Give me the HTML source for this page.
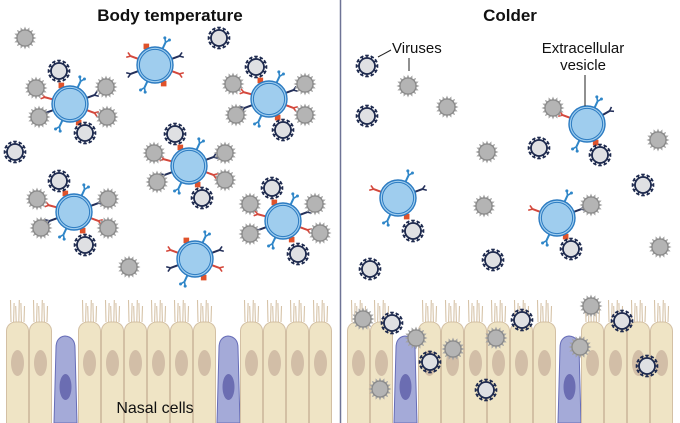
<!DOCTYPE html>
<html><head><meta charset="utf-8"><style>
html,body{margin:0;padding:0;background:#fff;width:680px;height:423px;overflow:hidden}
svg{display:block}
text{font-family:"Liberation Sans",sans-serif;fill:#111}
</style></head><body>
<svg id="s" width="680" height="423" viewBox="0 0 680 423" xmlns="http://www.w3.org/2000/svg">
<line x1="340.5" y1="0" x2="340.5" y2="423" stroke="#6e7396" stroke-width="1.5"/>
<g id="cells"></g>
<g id="objs"></g>
<text x="170" y="21" font-size="17" font-weight="bold" text-anchor="middle">Body temperature</text>
<text x="510" y="21" font-size="17" font-weight="bold" text-anchor="middle">Colder</text>
<text x="392" y="53" font-size="15">Viruses</text>
<line x1="378" y1="57" x2="391" y2="50" stroke="#222" stroke-width="1"/>
<line x1="409" y1="58" x2="409" y2="71" stroke="#222" stroke-width="1"/>
<text x="583" y="53" font-size="15" text-anchor="middle">Extracellular</text>
<text x="583" y="70" font-size="15" text-anchor="middle">vesicle</text>
<line x1="585" y1="75" x2="585" y2="106" stroke="#222" stroke-width="1"/>
<text x="155" y="413" font-size="16" text-anchor="middle">Nasal cells</text>
</svg>
<script>
var NS="http://www.w3.org/2000/svg";
function el(p,t,a){var e=document.createElementNS(NS,t);for(var k in a)e.setAttribute(k,a[k]);p.appendChild(e);return e;}
var cells=document.getElementById('cells'),objs=document.getElementById('objs');
function cell(x,w){
  for(var i=0;i<6;i++){var cx=x+5+i*2.6;el(cells,'line',{x1:cx,y1:322,x2:cx+(i%2?0.5:-0.5),y2:300+(i%3)*3,stroke:'#d6c3a8','stroke-width':1.1});}
  el(cells,'rect',{x:x+0.5,y:322,width:w-1,height:120,rx:9,fill:'#efe4c5',stroke:'#d3c0a4','stroke-width':1});
  el(cells,'ellipse',{cx:x+w/2,cy:363,rx:6.5,ry:13,fill:'#d2bea7'});
}
function gob(x,w){
  el(cells,'path',{d:'M'+(x+1)+' 423 L'+(x+3)+' 348 Q'+(x+3)+' 337 '+(x+12)+' 336 Q'+(x+w-3)+' 337 '+(x+w-3)+' 348 L'+(x+w-1)+' 423 Z',fill:'#a4aad8',stroke:'#676db8','stroke-width':1});
  el(cells,'ellipse',{cx:x+w/2,cy:387,rx:6,ry:13,fill:'#6b6db2'});
}
[6,29].forEach(function(x){cell(x,23)});gob(53,25);
[78,101,124,147,170,193].forEach(function(x){cell(x,23)});gob(216,25);
[240,263,286,309].forEach(function(x){cell(x,23)});
[347,370].forEach(function(x){cell(x,23)});gob(393,25);
[418,441,464,487,510,533].forEach(function(x){cell(x,23)});gob(557,25);
[581,604,627,650].forEach(function(x){cell(x,23)});

function gray(x,y){
  var g=el(objs,'g',{});
  var d='';for(var i=0;i<16;i++){var a=i/16*Math.PI*2,b=a+Math.PI/16;d+=(i?'L':'M')+(x+11.5*Math.cos(a))+' '+(y+11.5*Math.sin(a))+'L'+(x+8*Math.cos(b))+' '+(y+8*Math.sin(b));}
  el(g,'path',{d:d+'Z',fill:'#a3a3a3'});
  el(g,'circle',{cx:x,cy:y,r:8,fill:'#b4b4b4',stroke:'#8a8a8a','stroke-width':1.3});
}
function dark(x,y){
  var g=el(objs,'g',{});
  for(var i=0;i<12;i++){var a=i/12*Math.PI*2,c=Math.cos(a),s=Math.sin(a);
    el(g,'line',{x1:x+8*c,y1:y+8*s,x2:x+10.5*c,y2:y+10.5*s,stroke:'#1f2b4f','stroke-width':1.6});
    el(g,'line',{x1:x+10.5*c-1.8*s,y1:y+10.5*s+1.8*c,x2:x+10.5*c+1.8*s,y2:y+10.5*s-1.8*c,stroke:'#1f2b4f','stroke-width':1.6});}
  el(g,'circle',{cx:x,cy:y,r:8,fill:'#dfe0e3',stroke:'#1f2b4f','stroke-width':1.8});
}
function recep(x,y,ang,col,len,fork){
  var a=ang*Math.PI/180,r0=18,r1=18+len;
  var x0=x+r0*Math.cos(a),y0=y+r0*Math.sin(a),x1=x+r1*Math.cos(a),y1=y+r1*Math.sin(a);
  el(objs,'line',{x1:x0,y1:y0,x2:x1,y2:y1,stroke:col,'stroke-width':2});
  for(var s=-1;s<=1;s+=2){var b=a+s*0.6;el(objs,'line',{x1:x1,y1:y1,x2:x1+4.5*Math.cos(b),y2:y1+4.5*Math.sin(b),stroke:col,'stroke-width':1.6});
    if(fork)el(objs,'circle',{cx:x1+4.5*Math.cos(b),cy:y1+4.5*Math.sin(b),r:1.5,fill:col});}
}
function diamond(x,y,ang){
  var a=ang*Math.PI/180,px=x+20.5*Math.cos(a),py=y+20.5*Math.sin(a);
  el(objs,'rect',{x:px-2.8,y:py-2.8,width:5.6,height:5.6,fill:'#e0522a'});
}
function ev(x,y,opts){
  opts=opts||{};
  (opts.blue||[-65,115]).forEach(function(a){recep(x,y,a,'#2f86c8',7,true)});
  (opts.red||[200,20]).forEach(function(a){recep(x,y,a,'#d4483c',8,false)});
  (opts.navy||[160,-20]).forEach(function(a){recep(x,y,a,'#24305a',8,false)});
  (opts.dia||[-115,65]).forEach(function(a){diamond(x,y,a)});
  el(objs,'circle',{cx:x,cy:y,r:18,fill:'#9fcdee',stroke:'#2d7cc2','stroke-width':1.4});
  el(objs,'circle',{cx:x,cy:y,r:15.6,fill:'none',stroke:'#2d7cc2','stroke-width':1});
}
var C=[[70,104,[[36,88],[106,87],[39,117],[107,117]],[[59,71],[85,133]]],
[269,99,[[233,84],[305,84],[236,115],[305,115]],[[256,67],[283,130]]],
[189,166,[[154,153],[225,153],[157,182],[225,180]],[[175,134],[202,198]]],
[74,212,[[37,199],[108,199],[41,228],[108,228]],[[59,181],[85,245]]],
[283,221,[[250,204],[315,204],[250,234],[320,233]],[[272,188],[298,254]]]];
C.forEach(function(c){ev(c[0],c[1],{red:[195,20],navy:[160,-20]});c[2].forEach(function(p){gray(p[0],p[1])});c[3].forEach(function(p){dark(p[0],p[1])});});
ev(155,65);ev(195,259);
gray(25,38);dark(219,38);dark(15,152);gray(129,267);
ev(587,124,{red:[200],navy:[-30],dia:[65]});gray(553,108);dark(600,155);
ev(398,198,{red:[200],navy:[-20],dia:[65]});dark(413,231);
ev(557,218,{red:[200],navy:[-20],dia:[65]});gray(591,205);dark(571,249);
[[408,86],[447,107],[487,152],[658,140],[484,206],[660,247]].forEach(function(p){gray(p[0],p[1])});
[[367,66],[367,116],[539,148],[643,185],[493,260],[370,269]].forEach(function(p){dark(p[0],p[1])});
[[363,319],[416,338],[453,349],[496,338],[380,389],[591,306],[580,347]].forEach(function(p){gray(p[0],p[1])});
[[392,323],[430,362],[522,320],[622,321],[486,390],[647,366]].forEach(function(p){dark(p[0],p[1])});
</script>
</body></html>
